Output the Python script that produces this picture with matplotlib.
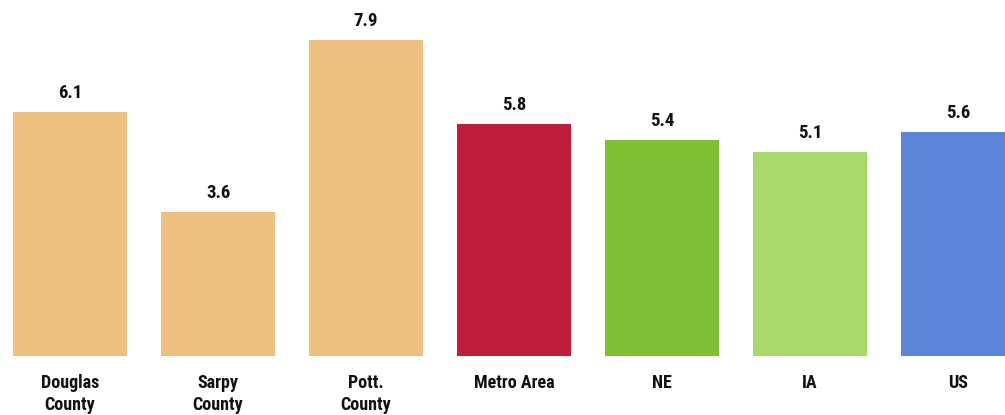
import matplotlib.pyplot as plt

# 데이터
categories = ["Douglas\nCounty", "Sarpy\nCounty", "Pott.\nCounty", "Metro Area", "NE", "IA", "US"]
values = [6.1, 3.6, 7.9, 5.8, 5.4, 5.1, 5.6]
colors = ["#EDC080", "#EDC080", "#EDC080", "#BE1C38", "#7FBF32", "#A8D96A", "#5B84D6"]

# 폰트 설정 (Arial Narrow 대신 Roboto Condensed)
plt.rcParams["font.family"] = ["Roboto Condensed", "DejaVu Sans"]

fig = plt.figure(figsize=(10.05, 4.15), dpi=100)
ax = fig.add_axes([0, 59 / 415, 1, 356 / 415])

x = list(range(len(values)))
bars = ax.bar(x, values, width=0.77, color=colors)
ax.bar_label(bars, labels=[f"{v:.1f}" for v in values], padding=7,
             fontsize=13.5, fontweight="bold", color="#111111")

ax.set_xlim(-70 / 148, 935 / 148)
ax.set_ylim(0, 8.9)
ax.set_xticks(x)
ax.set_xticklabels(categories, fontsize=13, fontweight="bold",
                   color="#111111", linespacing=1.25)
ax.tick_params(axis="x", length=0, pad=13)
ax.set_yticks([])
for s in ax.spines.values():
    s.set_visible(False)

fig.savefig("out.png", dpi=100)
